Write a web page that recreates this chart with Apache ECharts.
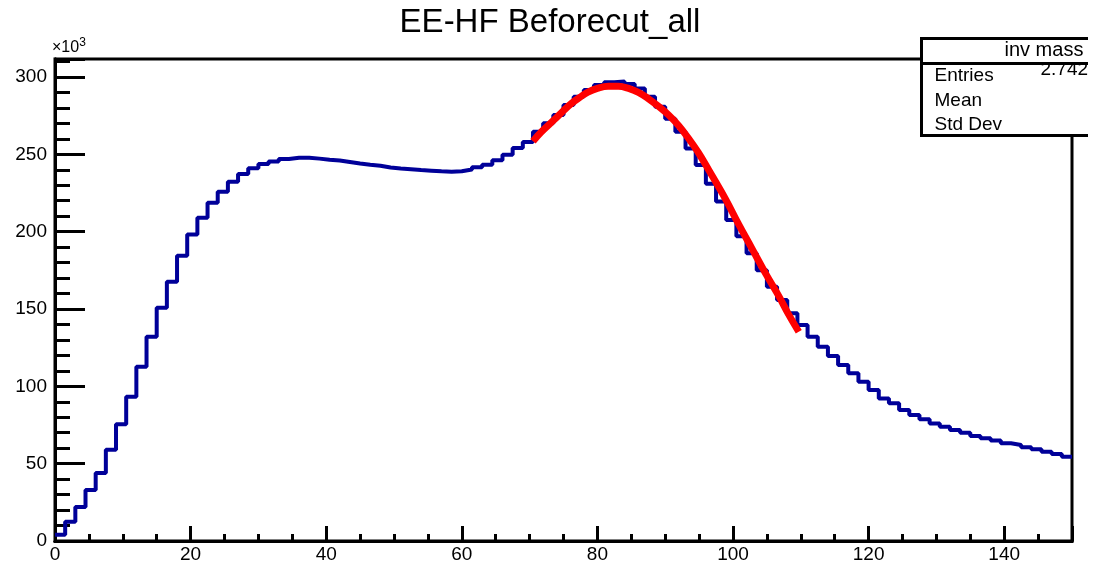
<!DOCTYPE html>
<html>
<head>
<meta charset="utf-8">
<title>EE-HF Beforecut_all</title>
<script src="https://cdn.jsdelivr.net/npm/echarts@6/dist/echarts.min.js"></script>
<style>
  html, body { margin: 0; padding: 0; background: #fff; }
  #chart { width: 1100px; height: 566px; }
</style>
</head>
<body>
<div id="chart"></div>
<script>
// histogram: 100 bins of 1.5 GeV from 0 to 150, counts in units of 10^3
var xMin = 0;
var binWidth = 1.5;
var binCounts = [
  4, 12.5, 22, 33, 44, 59, 75.5, 93.3, 112.7, 132,
  150.8, 167.6, 184.4, 198.2, 209, 218.7, 225.8, 232.3, 237.2, 241,
  243.7, 245.3, 247, 247.8, 247.8, 247.2, 246.4, 246, 245, 244,
  243.2, 242.6, 241.4, 240.8, 240.3, 239.8, 239.4, 239, 238.7, 239,
  240.2, 241.6, 243.3, 246.2, 249.7, 254, 258, 264.6, 270, 275.4,
  281.8, 287.2, 291.5, 294.8, 296.5, 297, 295.5, 292.6, 287.2, 280.7,
  273, 264.6, 253.8, 243, 231, 219.4, 207.5, 197, 186, 175,
  164.4, 155.8, 147.2, 139.6, 132, 125.6, 119.6, 113.8, 108.4, 103,
  97.6, 92.2, 89, 84.7, 81.4, 78.7, 76, 73.9, 71.8, 70,
  67.9, 66.4, 64.9, 63.2, 62.1, 60.6, 59.3, 57.7, 56.2, 54.5
];

// red fit curve
var fitX = [70.5, 71.75, 73.7, 74.95, 76.2, 77.4, 78.6, 80.1, 81.6, 83.1, 84.6, 86.05, 87.5,
            89, 90.5, 92, 93.4, 94.9, 96.4, 98.9, 100.8, 102.8, 104.8, 106.8, 108.2, 109.7];
var fitY = [258.5, 264.6, 272.6, 278, 283, 286.8, 290.2, 292.8, 294, 294, 292.6, 290, 286,
            281, 275.4, 268.5, 260.5, 251, 240, 221, 205, 189, 173, 158, 146.5, 135.3];

var xTicks = [0, 20, 40, 60, 80, 100, 120, 140];
var yTicks = [0, 50, 100, 150, 200, 250, 300];

var statsTitle = 'inv mass';
var statsRows = ['Entries', 'Mean', 'Std Dev'];
var statsValues = ['2.7429', '', ''];

var FONT = 'Liberation Sans, Arial, Helvetica, sans-serif';

// step points: left edge of every bin, plus the closing edge
var histPoints = binCounts.map(function (v, i) { return [xMin + i * binWidth, v]; });
histPoints.push([xMin + binCounts.length * binWidth, binCounts[binCounts.length - 1]]);

var fitPoints = fitX.map(function (x, i) { return [x, fitY[i]]; });

var chart = echarts.init(document.getElementById('chart'));

var axisBase = {
  type: 'value',
  splitLine: { show: false },
  axisLine: { show: true, onZero: false, lineStyle: { color: '#000', width: 3 } }
};

function statText(x, y, text, size, align) {
  return {
    type: 'text', x: x, y: y, z: 11,
    style: { text: text, fill: '#000', font: size + 'px ' + FONT, align: align || 'left', verticalAlign: 'middle' }
  };
}

chart.setOption({
  animation: false,
  backgroundColor: '#fff',
  title: {
    text: 'EE-HF Beforecut_all',
    left: 'center',
    top: 1,
    textStyle: { fontFamily: FONT, fontSize: 33, fontWeight: 'normal', color: '#000' }
  },
  grid: {
    left: 55, right: 28, top: 59, bottom: 25,
    show: true, borderColor: '#000', borderWidth: 3, backgroundColor: 'transparent'
  },
  xAxis: [
    Object.assign({}, axisBase, {
      min: 0, max: 150, interval: 20,
      axisTick: { show: true, inside: true, length: 15, lineStyle: { color: '#000', width: 3 } },
      axisLabel: {
        margin: 4, color: '#000', fontFamily: FONT, fontSize: 19,
        formatter: function (v) { return xTicks.indexOf(v) >= 0 ? String(v) : ''; }
      }
    }),
    Object.assign({}, axisBase, {
      min: 0, max: 150, interval: 5, position: 'bottom',
      axisTick: { show: true, inside: true, length: 7, lineStyle: { color: '#000', width: 3 } },
      axisLabel: { show: false }
    })
  ],
  yAxis: [
    Object.assign({}, axisBase, {
      min: 0, max: 311.6, interval: 50,
      axisTick: { show: true, inside: true, length: 30, lineStyle: { color: '#000', width: 3 } },
      axisLabel: {
        margin: 8, color: '#000', fontFamily: FONT, fontSize: 19,
        formatter: function (v) { return yTicks.indexOf(v) >= 0 ? String(v) : ''; }
      }
    }),
    Object.assign({}, axisBase, {
      min: 0, max: 311.6, interval: 10, position: 'left',
      axisTick: { show: true, inside: true, length: 15, lineStyle: { color: '#000', width: 3 } },
      axisLabel: { show: false }
    })
  ],
  series: [
    {
      name: 'inv mass',
      type: 'line',
      step: 'end',
      data: histPoints,
      symbol: 'none',
      lineStyle: { color: '#000099', width: 4 },
      z: 3
    },
    {
      name: 'fit',
      type: 'line',
      smooth: 0.4,
      data: fitPoints,
      symbol: 'none',
      lineStyle: { color: '#ff0000', width: 7, cap: 'butt' },
      z: 4
    }
  ],
  graphic: [
    {
      type: 'text',
      left: 52, top: 37,
      style: {
        text: '\u00d710{s|3}',
        fill: '#000',
        font: '16px ' + FONT,
        rich: { s: { fontSize: 12, verticalAlign: 'top', padding: [0, 0, 10, 0] } }
      }
    },
    // stats box (the source image is cut off on the right)
    {
      type: 'group',
      left: 919, top: 37,
      children: [
        { type: 'rect', shape: { x: 0, y: 0, width: 200, height: 97 },
          style: { fill: '#fff', stroke: '#000', lineWidth: 3 }, z: 10 },
        { type: 'line', shape: { x1: 0, y1: 25, x2: 200, y2: 25 },
          style: { stroke: '#000', lineWidth: 3 }, z: 11 },
        statText(83, 12, statsTitle, 20),
        statText(13, 37, statsRows[0], 19),
        statText(13, 62, statsRows[1], 19),
        statText(13, 86, statsRows[2], 19),
        statText(119, 31, statsValues[0], 19)
      ]
    },
    {
      type: 'rect', left: 1088, top: 30, z: 20,
      shape: { width: 12, height: 110 },
      style: { fill: '#fff' }
    }
  ]
});
</script>
</body>
</html>
